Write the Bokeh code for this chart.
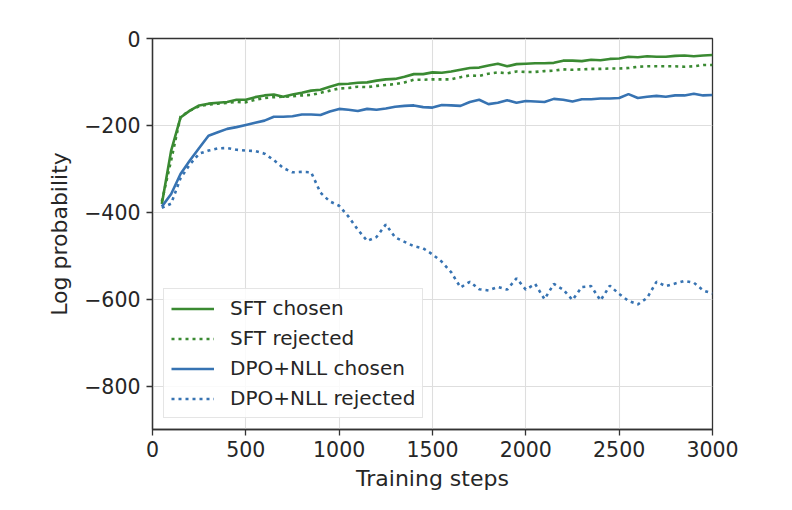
from bokeh.plotting import figure
from bokeh.models import FixedTicker, Legend, LegendItem
from bokeh.embed import file_html
from bokeh.resources import INLINE

steps = list(range(50, 3001, 50))

sft_chosen = [-381, -258, -182, -166, -154, -150, -148, -146, -141, -141,
              -135, -131, -129, -134, -129, -125, -120, -118, -111, -105,
              -104, -102, -101, -97, -94, -93, -88, -82, -82, -78,
              -79, -76, -72, -68, -67, -62, -58, -64, -59, -58,
              -57, -57, -56, -51, -51, -52, -49, -50, -47, -46,
              -42, -43, -41, -42, -42, -40, -39, -41, -39, -38]

sft_rejected = [-375, -280, -180, -166, -156, -152, -150, -148, -146, -147,
                -141, -137, -135, -134, -133, -131, -130, -125, -120, -115,
                -114, -111, -112, -109, -107, -105, -101, -95, -95, -94,
                -94, -94, -89, -85, -86, -81, -78, -80, -76, -77,
                -77, -75, -74, -71, -72, -71, -70, -70, -69, -69,
                -68, -65, -64, -64, -64, -64, -65, -64, -61, -61]

dpo_chosen = [-387, -358, -312, -281, -252, -224, -216, -208, -204, -199,
              -194, -189, -180, -180, -179, -175, -175, -176, -168, -162,
              -164, -167, -162, -164, -161, -157, -155, -154, -158, -159,
              -153, -154, -155, -146, -141, -151, -148, -142, -148, -144,
              -145, -146, -139, -141, -145, -140, -140, -138, -138, -137,
              -128, -137, -134, -132, -134, -131, -131, -127, -131, -130]

dpo_rejected = [-390, -380, -322, -290, -265, -258, -253, -252, -256, -258,
                -259, -265, -280, -298, -308, -307, -308, -355, -375, -385,
                -410, -440, -466, -457, -428, -458, -468, -478, -483, -497,
                -514, -538, -573, -560, -577, -580, -572, -578, -552, -578,
                -565, -600, -565, -578, -602, -572, -570, -603, -569, -588,
                -604, -612, -597, -560, -570, -564, -558, -562, -580, -587]

x_ticks = [0, 500, 1000, 1500, 2000, 2500, 3000]
y_ticks = [0, -200, -400, -600, -800]
y_tick_labels = ["0", "\u2212200", "\u2212400", "\u2212600", "\u2212800"]
series_names = ["SFT chosen", "SFT rejected", "DPO+NLL chosen", "DPO+NLL rejected"]

GREEN = "#3a8a32"
BLUE = "#3773b2"
TEXT = "#262626"
FONT = "DejaVu Sans"

p = figure(width=784, height=500, output_backend="svg", toolbar_location=None,
           x_range=(0, 3000), y_range=(-900, 0),
           frame_width=560, frame_height=391,
           min_border_left=152, min_border_top=38, min_border_right=72,
           min_border_bottom=71)
p.background_fill_color = "white"
p.border_fill_color = "white"
p.outline_line_color = "#333333"
p.outline_line_width = 1.3

r1 = p.line(steps, sft_chosen, line_color=GREEN, line_width=2.6)
r2 = p.line(steps, sft_rejected, line_color=GREEN, line_width=2.6, line_dash="3 4")
r3 = p.line(steps, dpo_chosen, line_color=BLUE, line_width=2.6)
r4 = p.line(steps, dpo_rejected, line_color=BLUE, line_width=2.6, line_dash="3 4")

for ax in (p.xaxis[0], p.yaxis[0]):
    ax.axis_line_color = "#333333"
    ax.axis_line_width = 1.3
    ax.major_tick_line_color = "#333333"
    ax.major_tick_line_width = 1.3
    ax.major_tick_out = 6
    ax.major_tick_in = 0
    ax.minor_tick_line_color = None
    ax.major_label_text_font = FONT
    ax.major_label_text_font_size = "20.5px"
    ax.major_label_text_color = TEXT
    ax.axis_label_text_font = FONT
    ax.axis_label_text_font_size = "22px"
    ax.axis_label_text_font_style = "normal"
    ax.axis_label_text_color = TEXT

p.xaxis[0].ticker = FixedTicker(ticks=x_ticks)
p.yaxis[0].ticker = FixedTicker(ticks=y_ticks)
p.yaxis[0].major_label_overrides = {t: l for t, l in zip(y_ticks, y_tick_labels)}
p.xaxis[0].axis_label = "Training steps"
p.yaxis[0].axis_label = "Log probability"
p.xaxis[0].major_label_standoff = 5
p.yaxis[0].major_label_standoff = 6
p.xaxis[0].axis_label_standoff = 6
p.yaxis[0].axis_label_standoff = 9

p.xgrid.grid_line_color = "#dedede"
p.ygrid.grid_line_color = "#dedede"
p.xgrid.grid_line_width = 1.1
p.ygrid.grid_line_width = 1.1

legend = Legend(items=[
    LegendItem(label=series_names[0], renderers=[r1]),
    LegendItem(label=series_names[1], renderers=[r2]),
    LegendItem(label=series_names[2], renderers=[r3]),
    LegendItem(label=series_names[3], renderers=[r4]),
], location="bottom_left")
legend.margin = 11
legend.padding = 7
legend.spacing = 6
legend.glyph_width = 43
legend.glyph_height = 21
legend.label_height = 21
legend.label_standoff = 16
legend.label_text_font = FONT
legend.label_text_font_size = "20px"
legend.label_text_color = TEXT
legend.border_line_color = "#cccccc"
legend.border_line_width = 1.2
legend.background_fill_color = "white"
legend.background_fill_alpha = 0.85
p.add_layout(legend, "center")

open("out.html", "w").write(file_html(p, INLINE))
